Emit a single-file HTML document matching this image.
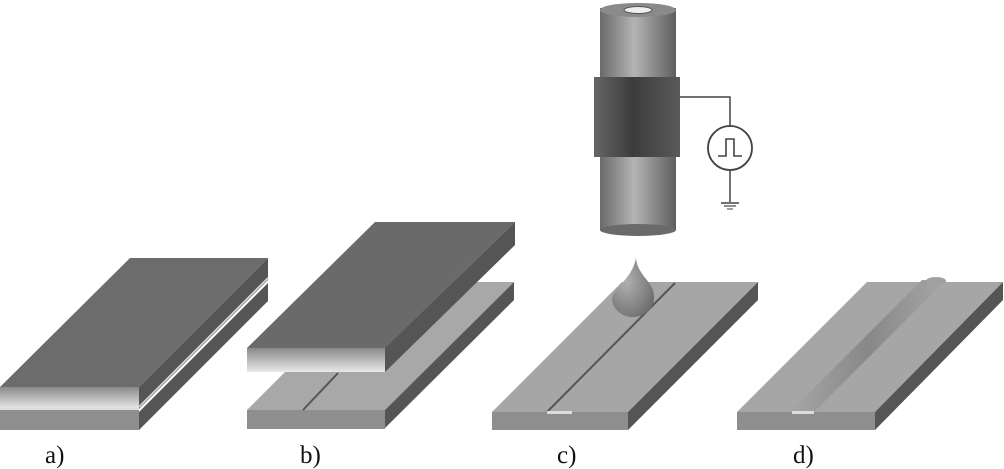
<!DOCTYPE html>
<html><head><meta charset="utf-8"><style>
html,body{margin:0;padding:0;background:#fff;width:1004px;height:469px;overflow:hidden}
svg{display:block}
text{font-family:"Liberation Serif",serif;font-size:25px;fill:#111}
</style></head><body>
<svg width="1004" height="469" viewBox="0 0 1004 469" xmlns="http://www.w3.org/2000/svg">
<defs>
<linearGradient id="fr" x1="0" y1="0" x2="0" y2="1"><stop offset="0" stop-color="#8a8a8a"/><stop offset="1" stop-color="#e8e8e8"/></linearGradient>
<linearGradient id="cyl" x1="0" y1="0" x2="1" y2="0"><stop offset="0" stop-color="#6a6a6a"/><stop offset="0.45" stop-color="#b4b4b4"/><stop offset="1" stop-color="#5e5e5e"/></linearGradient>
<linearGradient id="band" x1="0" y1="0" x2="1" y2="0"><stop offset="0" stop-color="#666"/><stop offset="0.45" stop-color="#3c3c3c"/><stop offset="1" stop-color="#5a5a5a"/></linearGradient>
<radialGradient id="drop" cx="0.35" cy="0.4" r="0.7"><stop offset="0" stop-color="#b0b0b0"/><stop offset="1" stop-color="#6e6e6e"/></radialGradient>
<linearGradient id="ridge" x1="0" y1="0" x2="1" y2="0"><stop offset="0" stop-color="#a6a6a6"/><stop offset="0.5" stop-color="#888"/><stop offset="1" stop-color="#a6a6a6"/></linearGradient>
</defs>

<!-- a) -->
<polygon points="139,412 268,283 268,301 139,430" fill="#555"/>
<rect x="0" y="410" width="139" height="20" fill="#8e8e8e"/>
<polygon points="0,387 130,258 268,258 139,387" fill="#6c6c6c"/>
<polygon points="139,387 268,258 268,280 139,409" fill="#555"/>
<rect x="0" y="387" width="139" height="22" fill="url(#fr)"/>
<line x1="139" y1="407" x2="268" y2="278" stroke="#ccc" stroke-width="2"/>
<line x1="0" y1="409" x2="139" y2="409" stroke="#ddd" stroke-width="2"/>

<!-- b) -->
<polygon points="247,410 375,282 514,282 385,410" fill="#a8a8a8"/>
<polygon points="385,410 514,282 514,300 385,428" fill="#555"/>
<rect x="247" y="410" width="138" height="19" fill="#8e8e8e"/>
<line x1="303" y1="410" x2="338" y2="373" stroke="#555" stroke-width="2"/>
<polygon points="247,348 375,222 515,222 385,348" fill="#6a6a6a"/>
<polygon points="385,348 515,222 515,245 385,372" fill="#555"/>
<rect x="247" y="348" width="138" height="24" fill="url(#fr)"/>

<!-- c) -->
<polygon points="492,412 622,282 758,282 628,412" fill="#a6a6a6"/>
<polygon points="628,412 758,282 758,300 628,430" fill="#555"/>
<rect x="492" y="412" width="136" height="18" fill="#8e8e8e"/>
<line x1="547" y1="412" x2="675" y2="283" stroke="#555" stroke-width="2"/>
<rect x="547" y="411" width="25" height="3" fill="#ddd"/>
<path d="M636,258 C637,275 654,282 654,296 A21,19 0 0 1 612,300 C612,288 632,280 636,258 Z" fill="url(#drop)"/>

<!-- cylinder -->
<rect x="600" y="8" width="76" height="222" fill="url(#cyl)"/>
<ellipse cx="638" cy="230" rx="38" ry="6" fill="#6a6a6a"/>
<ellipse cx="638" cy="10" rx="38" ry="7" fill="#8a8a8a"/>
<ellipse cx="638" cy="10" rx="14" ry="3.5" fill="#eee" stroke="#555" stroke-width="1"/>
<rect x="594" y="77" width="86" height="80" fill="url(#band)"/>
<polyline points="680,97 730,97 730,126" fill="none" stroke="#444" stroke-width="1.5"/>
<circle cx="730" cy="148" r="22" fill="#fff" stroke="#444" stroke-width="1.8"/>
<polyline points="718,156 726,156 726,139 734,139 734,156 742,156" fill="none" stroke="#444" stroke-width="1.6"/>
<line x1="730" y1="170" x2="730" y2="202" stroke="#444" stroke-width="1.5"/>
<line x1="721" y1="203" x2="739" y2="203" stroke="#444" stroke-width="1.5"/>
<line x1="724" y1="206" x2="736" y2="206" stroke="#444" stroke-width="1.2"/>
<line x1="727" y1="209" x2="733" y2="209" stroke="#444" stroke-width="1"/>

<!-- d) -->
<polygon points="737,412 867,282 1003,282 875,412" fill="#a6a6a6"/>
<polygon points="875,412 1003,282 1003,300 875,430" fill="#555"/>
<rect x="737" y="412" width="138" height="18" fill="#8e8e8e"/>
<polygon points="790,412 922,280 946,280 814,412" fill="url(#ridge)"/>
<ellipse cx="936" cy="281" rx="10" ry="4" fill="#a0a0a0"/>
<rect x="792" y="411" width="22" height="3" fill="#ddd"/>

<text x="45" y="463">a)</text>
<text x="300" y="463">b)</text>
<text x="557" y="463">c)</text>
<text x="793" y="463">d)</text>
</svg>
</body></html>
